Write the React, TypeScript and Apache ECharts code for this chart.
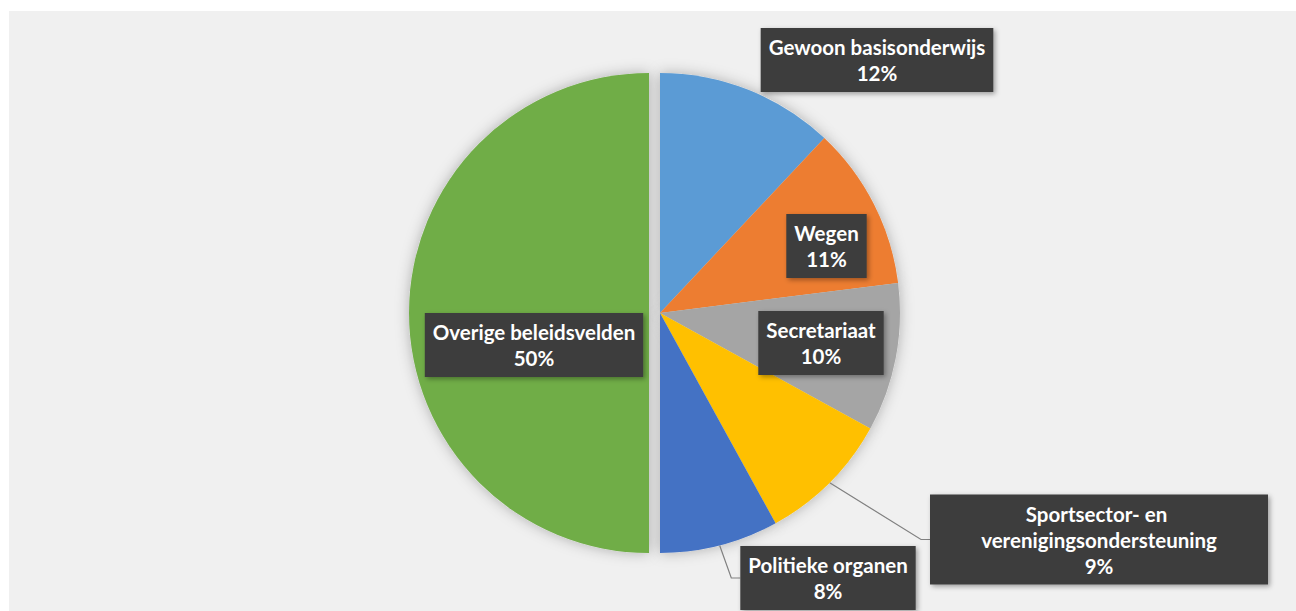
import React, { useEffect, useRef } from "react";
import * as echarts from "echarts";

// ---- data ----
const categories = [
  "Gewoon basisonderwijs",
  "Wegen",
  "Secretariaat",
  "Sportsector- en verenigingsondersteuning",
  "Politieke organen",
  "Overige beleidsvelden",
];
const shares = [12, 11, 10, 9, 8, 50];
const sliceColors = ["#5B9BD5", "#ED7D31", "#A5A5A5", "#FFC000", "#4472C4", "#70AD47"];
const explodedCategory = "Overige beleidsvelden";

// ---- layout (page pixels) ----
const ORIGIN = [9, 11];
const CHART_W = 1287;
const CHART_H = 600;
const PIE_CENTER = [660, 313];
const PIE_RADIUS = 240;
const EXPLODE = 11;
const labelCenters = [
  [877, 60],
  [826.5, 246],
  [821, 343],
  [1099, 539.5],
  [828, 578],
  [534, 345],
];
const labelBoxWidths: (number | null)[] = [null, null, null, 322, null, null];
const labelOutside = [false, false, false, true, true, false];

const TRANSPARENT = "rgba(0,0,0,0)";

export default function App() {
  const ref = useRef<HTMLDivElement>(null);

  useEffect(() => {
    if (!ref.current) return;
    const chart = echarts.init(ref.current, undefined, { renderer: "svg" });
    const total = shares.reduce((a, b) => a + b, 0);
    const cx = PIE_CENTER[0] - ORIGIN[0];
    const cy = PIE_CENTER[1] - ORIGIN[1];
    const explodedIndex = categories.indexOf(explodedCategory);

    const midAngle = (i: number) => {
      let cum = 0;
      for (let k = 0; k < i; k++) cum += shares[k];
      return ((cum + shares[i] / 2) / total) * Math.PI * 2;
    };
    const midPoint = (i: number) => {
      const a = midAngle(i);
      return [cx + PIE_RADIUS * Math.sin(a), cy - PIE_RADIUS * Math.cos(a)];
    };
    const ea = midAngle(explodedIndex);
    const ecx = cx + EXPLODE * Math.sin(ea);
    const ecy = cy - EXPLODE * Math.cos(ea);

    const isExploded = (i: number) => i === explodedIndex;

    const makeShadowData = (exploded: boolean) =>
      categories.map((name, i) => {
        const visible = isExploded(i) === exploded;
        return {
          name,
          value: shares[i],
          itemStyle: visible
            ? { color: "#e4e4e4", shadowBlur: 14, shadowColor: "rgba(0,0,0,0.28)" }
            : { color: TRANSPARENT, shadowBlur: 0, shadowColor: TRANSPARENT },
        };
      });

    const makeData = (exploded: boolean) =>
      categories.map((name, i) => {
        const visible = isExploded(i) === exploded;
        const w = labelBoxWidths[i];
        return {
          name,
          value: shares[i],
          itemStyle: { color: visible ? sliceColors[i] : TRANSPARENT },
          label: visible
            ? {
                show: true,
                position: labelOutside[i] ? "outside" : "inside",
                ...(w ? { width: w, overflow: "break" } : {}),
              }
            : { show: false },
          labelLine: { show: visible && labelOutside[i] },
        };
      });

    const labelLayout = (p: any) => {
      const c = labelCenters[p.dataIndex];
      const x = c[0] - ORIGIN[0];
      const y = c[1] - ORIGIN[1];
      const out: any = { x, y, align: "center", verticalAlign: "middle" };
      if (labelOutside[p.dataIndex]) {
        const start =
          p.labelLinePoints && p.labelLinePoints[0]
            ? p.labelLinePoints[0]
            : midPoint(p.dataIndex);
        const w = p.labelRect ? p.labelRect.width : 0;
        const left = x - w / 2;
        out.labelLinePoints = [start, [left - 9, y], [left, y]];
      }
      return out;
    };

    const base = {
      type: "pie",
      radius: PIE_RADIUS,
      startAngle: 90,
      clockwise: true,
      avoidLabelOverlap: false,
      emphasis: { disabled: true },
      silent: true,
    };

    const labelStyle = {
      formatter: (p: any) => `${p.name}\n${Math.round(p.percent)}%`,
      color: "#ffffff",
      fontFamily: "Lato, 'Open Sans', sans-serif",
      fontWeight: "bold",
      fontSize: 20.5,
      lineHeight: 26,
      align: "center",
      backgroundColor: "#3c3c3c",
      padding: [6, 8, 6, 8],
      shadowBlur: 5,
      shadowOffsetX: 2,
      shadowOffsetY: 2,
      shadowColor: "rgba(0,0,0,0.35)",
    };

    const labelLine = {
      length: 10,
      length2: 8,
      smooth: false,
      lineStyle: { color: "#808080", width: 1.2 },
    };

    chart.setOption({
      animation: false,
      backgroundColor: "#f0f0f0",
      series: [
        {
          ...base,
          z: 1,
          center: [cx, cy],
          data: makeShadowData(false),
          label: { show: false },
          labelLine: { show: false },
        },
        {
          ...base,
          z: 1,
          center: [ecx, ecy],
          data: makeShadowData(true),
          label: { show: false },
          labelLine: { show: false },
        },
        {
          ...base,
          z: 2,
          center: [cx, cy],
          data: makeData(false),
          label: labelStyle,
          labelLine,
          labelLayout,
        },
        {
          ...base,
          z: 2,
          center: [ecx, ecy],
          data: makeData(true),
          label: labelStyle,
          labelLine,
          labelLayout,
        },
      ],
    });

    return () => chart.dispose();
  }, []);

  return (
    <div
      style={{
        position: "absolute",
        left: 0,
        top: 0,
        width: 1296,
        height: 611,
        background: "#ffffff",
        overflow: "hidden",
      }}
    >
      <div
        ref={ref}
        style={{
          position: "absolute",
          left: ORIGIN[0],
          top: ORIGIN[1],
          width: CHART_W,
          height: CHART_H,
        }}
      />
    </div>
  );
}
